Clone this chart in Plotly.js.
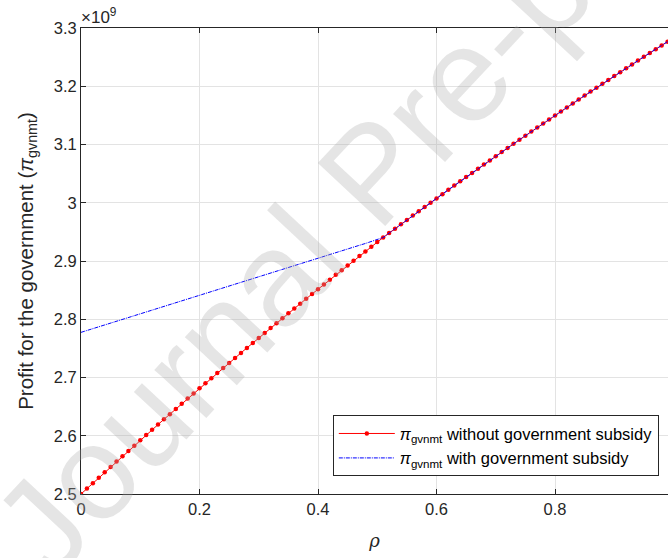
<!DOCTYPE html>
<html>
<head>
<meta charset="utf-8">
<script src="https://cdn.plot.ly/plotly-3.0.1.min.js"></script>
<style>html,body{margin:0;padding:0;background:#fff;}#chart{width:668px;height:558px;}</style>
</head>
<body>
<div id="chart"></div>
<script>
// rho values (x axis)
const rho = [0.00,0.01,0.02,0.03,0.04,0.05,0.06,0.07,0.08,0.09,
0.10,0.11,0.12,0.13,0.14,0.15,0.16,0.17,0.18,0.19,
0.20,0.21,0.22,0.23,0.24,0.25,0.26,0.27,0.28,0.29,
0.30,0.31,0.32,0.33,0.34,0.35,0.36,0.37,0.38,0.39,
0.40,0.41,0.42,0.43,0.44,0.45,0.46,0.47,0.48,0.49,
0.50,0.51,0.52,0.53,0.54,0.55,0.56,0.57,0.58,0.59,
0.60,0.61,0.62,0.63,0.64,0.65,0.66,0.67,0.68,0.69,
0.70,0.71,0.72,0.73,0.74,0.75,0.76,0.77,0.78,0.79,
0.80,0.81,0.82,0.83,0.84,0.85,0.86,0.87,0.88,0.89,
0.90,0.91,0.92,0.93,0.94,0.95,0.96,0.97,0.98,0.99];

// profit without subsidy (x 1e9)
const profitNoSubsidy = [2.5000,2.5093,2.5186,2.5279,2.5372,2.5464,2.5556,2.5648,2.5739,2.5830,
2.5921,2.6012,2.6102,2.6192,2.6282,2.6371,2.6460,2.6549,2.6638,2.6726,
2.6814,2.6902,2.6989,2.7076,2.7163,2.7250,2.7336,2.7422,2.7508,2.7594,
2.7679,2.7764,2.7849,2.7933,2.8017,2.8101,2.8185,2.8268,2.8351,2.8434,
2.8516,2.8598,2.8680,2.8762,2.8843,2.8924,2.9005,2.9085,2.9165,2.9245,
2.9325,2.9404,2.9479,2.9555,2.9630,2.9705,2.9779,2.9853,2.9928,3.0001,
3.0075,3.0148,3.0222,3.0295,3.0367,3.0440,3.0512,3.0584,3.0656,3.0727,
3.0799,3.0870,3.0940,3.1011,3.1081,3.1152,3.1222,3.1291,3.1361,3.1430,
3.1499,3.1568,3.1636,3.1704,3.1772,3.1840,3.1908,3.1975,3.2042,3.2109,
3.2176,3.2242,3.2309,3.2375,3.2440,3.2506,3.2571,3.2636,3.2701,3.2766];

// profit with subsidy (x 1e9)
const profitSubsidy = [2.7775,2.7807,2.7839,2.7870,2.7902,2.7934,2.7966,2.7998,2.8029,2.8061,
2.8093,2.8125,2.8157,2.8188,2.8220,2.8252,2.8284,2.8316,2.8347,2.8379,
2.8411,2.8443,2.8475,2.8506,2.8538,2.8570,2.8602,2.8634,2.8665,2.8697,
2.8729,2.8761,2.8793,2.8824,2.8856,2.8888,2.8920,2.8952,2.8983,2.9015,
2.9047,2.9079,2.9111,2.9142,2.9174,2.9206,2.9238,2.9270,2.9301,2.9333,
2.9365,2.9404,2.9479,2.9555,2.9630,2.9705,2.9779,2.9853,2.9928,3.0001,
3.0075,3.0148,3.0222,3.0295,3.0367,3.0440,3.0512,3.0584,3.0656,3.0727,
3.0799,3.0870,3.0940,3.1011,3.1081,3.1152,3.1222,3.1291,3.1361,3.1430,
3.1499,3.1568,3.1636,3.1704,3.1772,3.1840,3.1908,3.1975,3.2042,3.2109,
3.2176,3.2242,3.2309,3.2375,3.2440,3.2506,3.2571,3.2636,3.2701,3.2766];

const xTicks = [0, 0.2, 0.4, 0.6, 0.8];
const xTickText = ['0', '0.2', '0.4', '0.6', '0.8'];
const yTicks = [2.5, 2.6, 2.7, 2.8, 2.9, 3.0, 3.1, 3.2, 3.3];
const yTickText = ['2.5', '2.6', '2.7', '2.8', '2.9', '3', '3.1', '3.2', '3.3'];

const seriesNames = ['<i>π</i><sub>gvnmt</sub> without government subsidy',
                     '<i>π</i><sub>gvnmt</sub> with government subsidy'];

const font = 'Arial, "Liberation Sans", Helvetica, sans-serif';
const axisColor = '#262626';

const traces = [
  {
    x: rho, y: profitNoSubsidy, type: 'scatter', mode: 'lines+markers',
    name: seriesNames[0],
    line: {color: '#ff0000', width: 1},
    marker: {color: '#ff0000', size: 4.5}
  },
  {
    x: rho, y: profitSubsidy, type: 'scatter', mode: 'lines',
    name: seriesNames[1],
    line: {color: '#0000ff', width: 1, dash: '4px,1px,1px,1px'}
  }
];

const layout = {
  width: 668, height: 558,
  margin: {l: 81, r: 0, t: 28, b: 64},
  paper_bgcolor: '#ffffff', plot_bgcolor: '#ffffff',
  font: {family: font, color: axisColor, size: 16.5},
  showlegend: true,
  legend: {
    x: 0.429, y: 0.169, xanchor: 'left', yanchor: 'top',
    bgcolor: '#ffffff', bordercolor: axisColor, borderwidth: 1,
    font: {family: font, size: 16.5, color: '#000000'},
    tracegroupgap: 0, itemwidth: 56
  },
  xaxis: {
    range: [0, 0.9907], tickvals: xTicks, ticktext: xTickText,
    ticks: 'inside', ticklen: 5, tickcolor: axisColor, tickwidth: 1,
    showline: true, linecolor: axisColor, linewidth: 1, mirror: 'ticks',
    showgrid: true, gridcolor: '#e3e3e3', gridwidth: 1, zeroline: false,
    tickfont: {family: font, size: 16.5, color: axisColor},
    title: {text: '<i>ρ</i>', font: {family: '"DejaVu Serif", serif', size: 18, color: axisColor}, standoff: 17}
  },
  yaxis: {
    range: [2.5, 3.3], tickvals: yTicks, ticktext: yTickText,
    ticks: 'inside', ticklen: 5, tickcolor: axisColor, tickwidth: 1,
    showline: true, linecolor: axisColor, linewidth: 1, mirror: false,
    showgrid: true, gridcolor: '#e3e3e3', gridwidth: 1, zeroline: false,
    tickfont: {family: font, size: 16.5, color: axisColor},
    title: {text: 'Profit for the government (<i>π</i><sub>gvnmt</sub>)', font: {family: font, size: 20.5, color: axisColor}, standoff: 14}
  },
  annotations: [
    {
      text: '×10<sup>9</sup>', xref: 'paper', yref: 'paper', x: 0, y: 1,
      xanchor: 'left', yanchor: 'bottom', showarrow: false, xshift: -2, yshift: -1,
      font: {family: font, size: 17, color: axisColor}
    },
    {
      text: 'Journal Pre-proof', xref: 'paper', yref: 'paper', x: 0.495, y: 0.69,
      xanchor: 'center', yanchor: 'middle', showarrow: false, textangle: -47,
      font: {family: font, size: 134, color: 'rgba(170,170,170,0.3)'}
    }
  ]
};

Plotly.newPlot('chart', traces, layout, {displayModeBar: false, staticPlot: true});
</script>
</body>
</html>
